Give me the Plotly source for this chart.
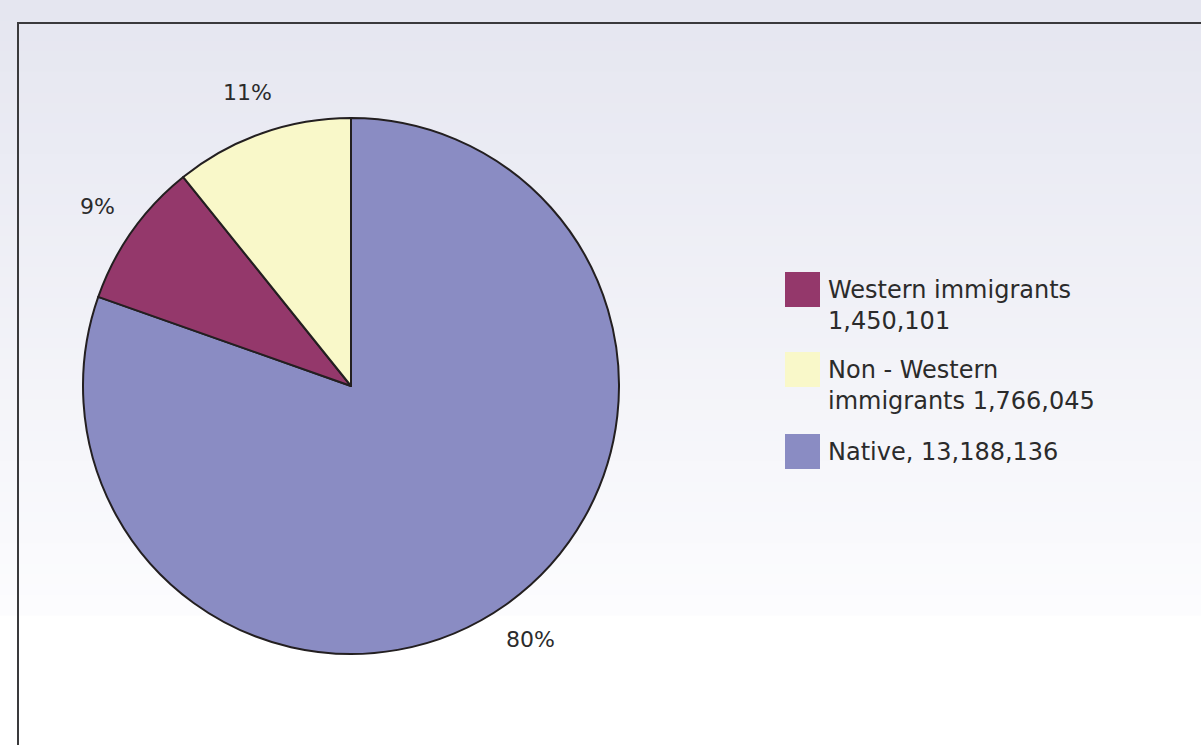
import math
import plotly.graph_objects as go

# ---- data ----
labels = ["Native", "Western immigrants", "Non - Western immigrants"]
values = [13188136, 1450101, 1766045]
colors = ["#8a8cc3", "#94386b", "#f9f8c9"]

legend_order = [1, 2, 0]
legend_texts = [
    "Western immigrants<br>{:,}".format(values[1]),
    "Non - Western<br>immigrants {:,}".format(values[2]),
    "Native, {:,}".format(values[0]),
]

W, H = 1201, 745
FONT = "DejaVu Sans"
TXT = "#2b2b2b"
CX, CY, R = 351, 386, 268  # pie centre / radius in pixels

fig = go.Figure()
fig.add_trace(go.Pie(
    labels=labels,
    values=values,
    sort=False,
    direction="clockwise",
    rotation=0,
    marker=dict(colors=colors, line=dict(color="#231f20", width=2)),
    textinfo="none",
    hoverinfo="label+value+percent",
    domain=dict(x=[(CX - R) / W, (CX + R) / W],
                y=[(H - CY - R) / H, (H - CY + R) / H]),
    showlegend=False,
))

annotations = []
# percentage labels outside the slices, placed along each slice's mid-angle
total = sum(values)
cum = 0.0
for v in values:
    frac = v / total
    mid = (cum + frac / 2) * 2 * math.pi
    cum += frac
    d = R * 1.16
    px = CX + d * math.sin(mid)
    py = CY - d * math.cos(mid)
    annotations.append(dict(xref="paper", yref="paper", x=px / W, y=1 - py / H,
                            xanchor="center", yanchor="middle", showarrow=False,
                            text="{:.0f}%".format(frac * 100),
                            font=dict(family=FONT, size=22, color=TXT)))

shapes = []
# background gradient (lavender at top fading to white)
top = (229, 230, 240)
bot = (252, 252, 254)
grad_end = 615
n = 60
for i in range(n):
    t = i / (n - 1)
    c = tuple(round(top[k] + (bot[k] - top[k]) * t) for k in range(3))
    y0 = grad_end * i / n
    y1 = grad_end * (i + 1) / n + 0.8
    shapes.append(dict(type="rect", xref="paper", yref="paper",
                       x0=0, x1=1, y0=1 - y1 / H, y1=1 - y0 / H,
                       fillcolor="rgb(%d,%d,%d)" % c, line=dict(width=0),
                       layer="below"))
# frame
shapes.append(dict(type="rect", xref="paper", yref="paper",
                   x0=18 / W, x1=1.02, y0=-0.02, y1=1 - 23 / H,
                   line=dict(color="#3a3a3c", width=2), fillcolor="rgba(0,0,0,0)",
                   layer="below"))

sw_tops = [272, 352, 434]
for idx, (k, txt) in enumerate(zip(legend_order, legend_texts)):
    ty = sw_tops[idx]
    shapes.append(dict(type="rect", xref="paper", yref="paper",
                       x0=785 / W, x1=820 / W,
                       y0=1 - (ty + 35) / H, y1=1 - ty / H,
                       fillcolor=colors[k], line=dict(width=0)))
    annotations.append(dict(xref="paper", yref="paper",
                            x=826 / W, y=1 - (ty + 2) / H,
                            xanchor="left", yanchor="top", align="left",
                            text=txt, showarrow=False,
                            font=dict(family=FONT, size=24, color=TXT)))

fig.update_layout(
    width=W, height=H,
    margin=dict(l=0, r=0, t=0, b=0),
    paper_bgcolor="white",
    plot_bgcolor="white",
    shapes=shapes,
    annotations=annotations,
    showlegend=False,
)

fig.write_html("out.html",
               config={"displayModeBar": False},
               post_script="document.body.style.margin='0';document.body.style.overflow='hidden';")
